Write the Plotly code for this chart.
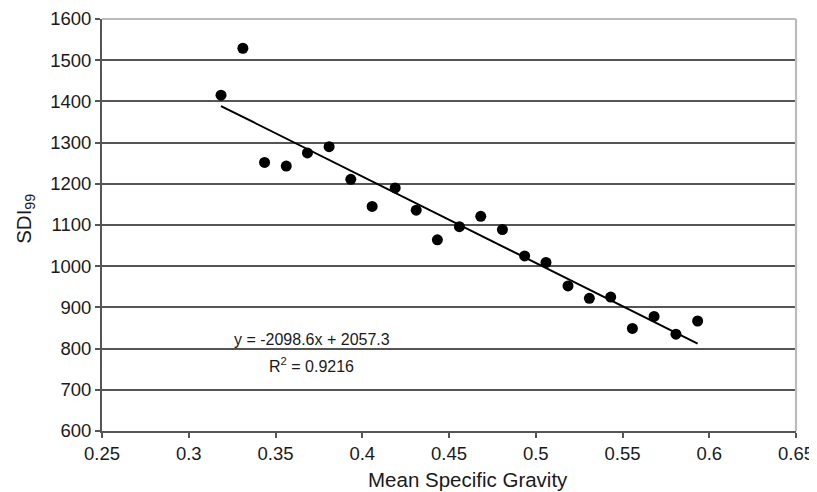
import plotly.graph_objects as go

# Data
mean_sg = [0.3186, 0.3312, 0.3437, 0.3562, 0.3684, 0.3809, 0.3934, 0.4057,
           0.4190, 0.4311, 0.4433, 0.4560, 0.4683, 0.4808, 0.4936, 0.5059,
           0.5186, 0.5309, 0.5432, 0.5557, 0.5682, 0.5808, 0.5933]
sdi99 = [1415, 1529, 1252, 1243, 1275, 1290, 1211, 1145,
         1190, 1136, 1064, 1096, 1121, 1089, 1025, 1009,
         952, 922, 925, 849, 878, 835, 867]

slope = -2098.6
intercept = 2057.3
r_squared = 0.9216

x_ticks = [0.25, 0.3, 0.35, 0.4, 0.45, 0.5, 0.55, 0.6, 0.65]
x_tick_labels = ["0.25", "0.3", "0.35", "0.4", "0.45", "0.5", "0.55", "0.6", "0.65"]
y_ticks = [600, 700, 800, 900, 1000, 1100, 1200, 1300, 1400, 1500, 1600]

FONT = "Liberation Sans, Arial, Helvetica, sans-serif"

fit_x = [min(mean_sg), max(mean_sg)]
fit_y = [slope * v + intercept for v in fit_x]

fig = go.Figure()
fig.add_trace(go.Scatter(x=fit_x, y=fit_y, mode="lines",
                         line=dict(color="black", width=2),
                         showlegend=False, hoverinfo="skip"))
fig.add_trace(go.Scatter(x=mean_sg, y=sdi99, mode="markers",
                         marker=dict(color="black", size=11),
                         showlegend=False))

# the page body adds an 8px offset, so the figure is 8px smaller in each direction
fig.update_layout(
    width=809, height=484, autosize=False,
    margin=dict(l=94, r=21, t=11, b=61, pad=0, autoexpand=False),
    paper_bgcolor="white", plot_bgcolor="white",
    font=dict(family=FONT, color="#1a1a1a", size=18),
    xaxis=dict(range=[0.25, 0.65], tickvals=x_ticks, ticktext=x_tick_labels,
               showgrid=False, zeroline=False, automargin=False,
               showline=True, linecolor="#555555", linewidth=2,
               ticks="outside", ticklen=5, tickcolor="#555555", tickwidth=1.5,
               tickfont=dict(size=18.5, family=FONT, color="#1a1a1a")),
    yaxis=dict(range=[600, 1600], tickvals=y_ticks,
               showgrid=True, gridcolor="#555555", gridwidth=1.8,
               zeroline=False, automargin=False,
               showline=True, linecolor="#555555", linewidth=2,
               ticks="outside", ticklen=5, tickcolor="#555555", tickwidth=1.5,
               tickfont=dict(size=18.5, family=FONT, color="#1a1a1a")),
)

# light grey top and right borders of the plot area
fig.add_shape(type="line", xref="paper", yref="paper", x0=0, x1=1, y0=1, y1=1,
              line=dict(color="#bbbbbb", width=2.2), layer="above")
fig.add_shape(type="line", xref="paper", yref="paper", x0=1, x1=1, y0=0, y1=1,
              line=dict(color="#bbbbbb", width=2.2), layer="above")

# axis titles
fig.add_annotation(text="Mean Specific Gravity", xref="paper", yref="paper",
                   x=0.527, y=0, yshift=-48, yanchor="middle", showarrow=False,
                   font=dict(size=20.5, family=FONT, color="#1a1a1a"))
fig.add_annotation(text="SDI<sub>99</sub>", xref="paper", yref="paper",
                   x=0, xshift=-77, y=0.515, textangle=-90, showarrow=False,
                   xanchor="center", yanchor="middle",
                   font=dict(size=20.5, family=FONT, color="#1a1a1a"))

# regression equation
fig.add_annotation(text=f"y = {slope}x + {intercept}", x=0.371, y=823,
                   showarrow=False, font=dict(size=16, family=FONT, color="#1a1a1a"))
fig.add_annotation(text=f"R<sup>2</sup> = {r_squared}", x=0.371, y=761,
                   showarrow=False, font=dict(size=16, family=FONT, color="#1a1a1a"))

fig.write_html("out.html")
